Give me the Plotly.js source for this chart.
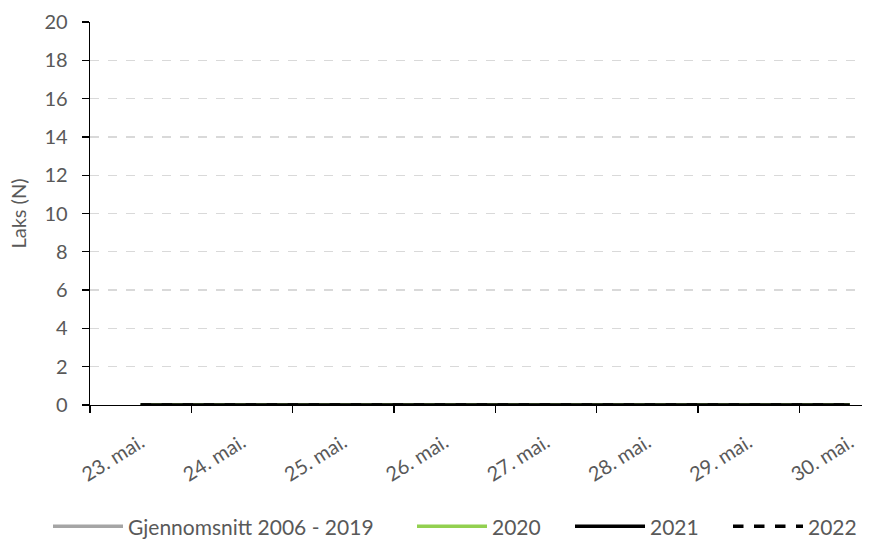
<!DOCTYPE html>
<html>
<head>
<meta charset="utf-8">
<script src="https://cdn.plot.ly/plotly-3.0.1.min.js"></script>
<style>html,body{margin:0;padding:0;background:#fff;}#chart{width:892px;height:543px;}</style>
</head>
<body>
<div id="chart"></div>
<script>
const categories = ["23. mai.", "24. mai.", "25. mai.", "26. mai.", "27. mai.", "28. mai.", "29. mai.", "30. mai."];
const avg2006_2019 = [0, 0, 0, 0, 0, 0, 0, 0];
const y2020 = [0, 0, 0, 0, 0, 0, 0, 0];
const y2021 = [0, 0, 0, 0, 0, 0, 0, 0];
const y2022 = [0, 0, 0, 0, 0, 0, 0, 0];
const yTicks = [0, 2, 4, 6, 8, 10, 12, 14, 16, 18, 20];

const font = "Lato, 'Open Sans', sans-serif";
const txt = "#595959";
const traces = [
  {name: "Gjennomsnitt 2006 - 2019", y: avg2006_2019, line: {color: "#A5A5A5", width: 3.5}, legend: "legend"},
  {name: "2020", y: y2020, line: {color: "#92D050", width: 3.5}, legend: "legend2"},
  {name: "2021", y: y2021, line: {color: "#000000", width: 3.5}, legend: "legend2"},
  {name: "2022", y: y2022, line: {color: "#000000", width: 3.5, dash: "dash"}, legend: "legend2"}
].map(t => Object.assign({x: categories, type: "scatter", mode: "lines", cliponaxis: false}, t));

const legendBase = {orientation: "h", xanchor: "left", xref: "container",
  y: 0.03, yanchor: "middle", yref: "container",
  font: {size: 21, color: txt}, itemwidth: 70, tracegroupgap: 0, bgcolor: "rgba(0,0,0,0)"};

const layout = {
  width: 892, height: 543,
  margin: {l: 90, r: 30, t: 22, b: 138},
  paper_bgcolor: "#fff", plot_bgcolor: "#fff",
  font: {family: font, size: 20, color: txt},
  showlegend: true,
  legend: Object.assign({}, legendBase, {x: 48 / 892}),
  legend2: Object.assign({}, legendBase, {x: 412 / 892, entrywidth: 73}),
  xaxis: {type: "category", range: [-0.5, 7.12], tickson: "boundaries", automargin: false,
          showline: true, linecolor: "#000", linewidth: 1.3,
          ticks: "outside", ticklen: 7, tickcolor: "#000", tickwidth: 1.3,
          tickangle: -32, ticklabelstandoff: 17, showgrid: false, zeroline: false,
          tickfont: {size: 20, color: txt}},
  yaxis: {range: [0, 20], tickvals: yTicks, automargin: false,
          showline: true, linecolor: "#000", linewidth: 1.3,
          ticks: "outside", ticklen: 7, tickcolor: "#000", tickwidth: 1.3,
          ticklabelstandoff: 10,
          showgrid: true, gridcolor: "#D9D9D9", griddash: "dash", gridwidth: 1.3,
          zeroline: false, tickfont: {size: 20, color: txt},
          title: {text: "Laks (N)", font: {size: 20, color: txt}, standoff: 12}}
};

Plotly.newPlot("chart", traces, layout, {displayModeBar: false, staticPlot: true});
</script>
</body>
</html>
